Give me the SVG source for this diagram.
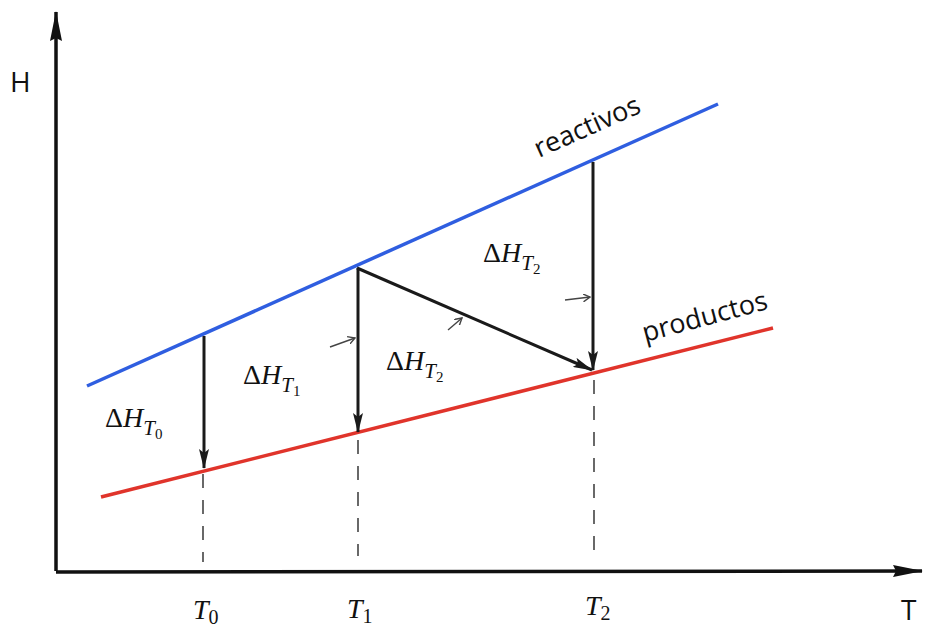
<svg xmlns="http://www.w3.org/2000/svg" width="931" height="629" viewBox="0 0 931 629">
<style>
.axis{stroke:#111;stroke-width:3.5;fill:none}
.arr{stroke:#1a1a1a;stroke-width:3;fill:none}
.dash{stroke:#444;stroke-width:1.6;stroke-dasharray:14 12;fill:none}
.small{stroke:#444;stroke-width:1.4;fill:none}
.lbl{font-family:"Open Sans","Noto Sans",sans-serif;fill:#111}
.math{font-family:"Liberation Serif","DejaVu Serif",serif;fill:#111}
</style>
<defs>
<marker id="head" viewBox="0 0 20 10" refX="19" refY="5" markerWidth="20" markerHeight="10" markerUnits="userSpaceOnUse" orient="auto">
<path d="M0,0 L20,5 L0,10 L4,5 Z" fill="#1a1a1a"/>
</marker>
<marker id="axhead" viewBox="0 0 30 12" refX="29" refY="6" markerWidth="30" markerHeight="12" markerUnits="userSpaceOnUse" orient="auto">
<path d="M0,0 L30,6 L0,12 L3,6 Z" fill="#111"/>
</marker>
<marker id="open" viewBox="0 0 8 8" refX="7" refY="4" markerWidth="8" markerHeight="8" markerUnits="userSpaceOnUse" orient="auto">
<path d="M0,0 L7,4 L0,8" fill="none" stroke="#444" stroke-width="1.4"/>
</marker>
</defs>
<g id="axes">
<path class="axis" d="M56,571 L56,12" marker-end="url(#axhead)"/>
<path class="axis" d="M56,572 L922,571" marker-end="url(#axhead)"/>
<text class="lbl" x="10" y="92" font-size="28">H</text>
<text class="lbl" x="901" y="620" font-size="28">T</text>
</g>
<g id="reactivos">
<line x1="87" y1="386" x2="718" y2="104" stroke="#2f5ee0" stroke-width="3.5"/>
<text class="lbl" font-size="27" transform="translate(539,158) rotate(-24)">reactivos</text>
</g>
<g id="productos">
<line x1="101" y1="497" x2="773" y2="328" stroke="#e0342b" stroke-width="3.5"/>
<text class="lbl" font-size="27" transform="translate(645,342) rotate(-15)">productos</text>
</g>
<g id="connectors">
<line class="arr" x1="204" y1="336" x2="204" y2="468" marker-end="url(#head)"/>
<line class="arr" x1="358" y1="268" x2="358" y2="432" marker-end="url(#head)"/>
<line class="arr" x1="357" y1="268" x2="592" y2="370" marker-end="url(#head)"/>
<line class="arr" x1="593" y1="162" x2="593" y2="370" marker-end="url(#head)"/>
<line class="dash" x1="203" y1="474" x2="203" y2="562"/>
<line class="dash" x1="358" y1="440" x2="358" y2="556"/>
<line class="dash" x1="594" y1="380" x2="594" y2="560"/>
<line class="small" x1="330" y1="347" x2="355" y2="338" marker-end="url(#open)"/>
<line class="small" x1="448" y1="330" x2="462" y2="318" marker-end="url(#open)"/>
<line class="small" x1="565" y1="300" x2="590" y2="297" marker-end="url(#open)"/>
</g>
<g id="labels">
<text class="math" x="105" y="427" font-size="28">Δ<tspan font-style="italic">H</tspan><tspan font-style="italic" font-size="21" dy="8">T</tspan><tspan font-size="15" dy="4">0</tspan></text>
<text class="math" x="243" y="384" font-size="28">Δ<tspan font-style="italic">H</tspan><tspan font-style="italic" font-size="21" dy="8">T</tspan><tspan font-size="15" dy="4">1</tspan></text>
<text class="math" x="386" y="370" font-size="28">Δ<tspan font-style="italic">H</tspan><tspan font-style="italic" font-size="21" dy="8">T</tspan><tspan font-size="15" dy="4">2</tspan></text>
<text class="math" x="483" y="262" font-size="28">Δ<tspan font-style="italic">H</tspan><tspan font-style="italic" font-size="21" dy="8">T</tspan><tspan font-size="15" dy="4">2</tspan></text>
<text class="math" x="193" y="619" font-size="28"><tspan font-style="italic">T</tspan><tspan font-size="20" dy="5">0</tspan></text>
<text class="math" x="347" y="618" font-size="28"><tspan font-style="italic">T</tspan><tspan font-size="20" dy="5">1</tspan></text>
<text class="math" x="585" y="615" font-size="28"><tspan font-style="italic">T</tspan><tspan font-size="20" dy="5">2</tspan></text>
</g>
</svg>
